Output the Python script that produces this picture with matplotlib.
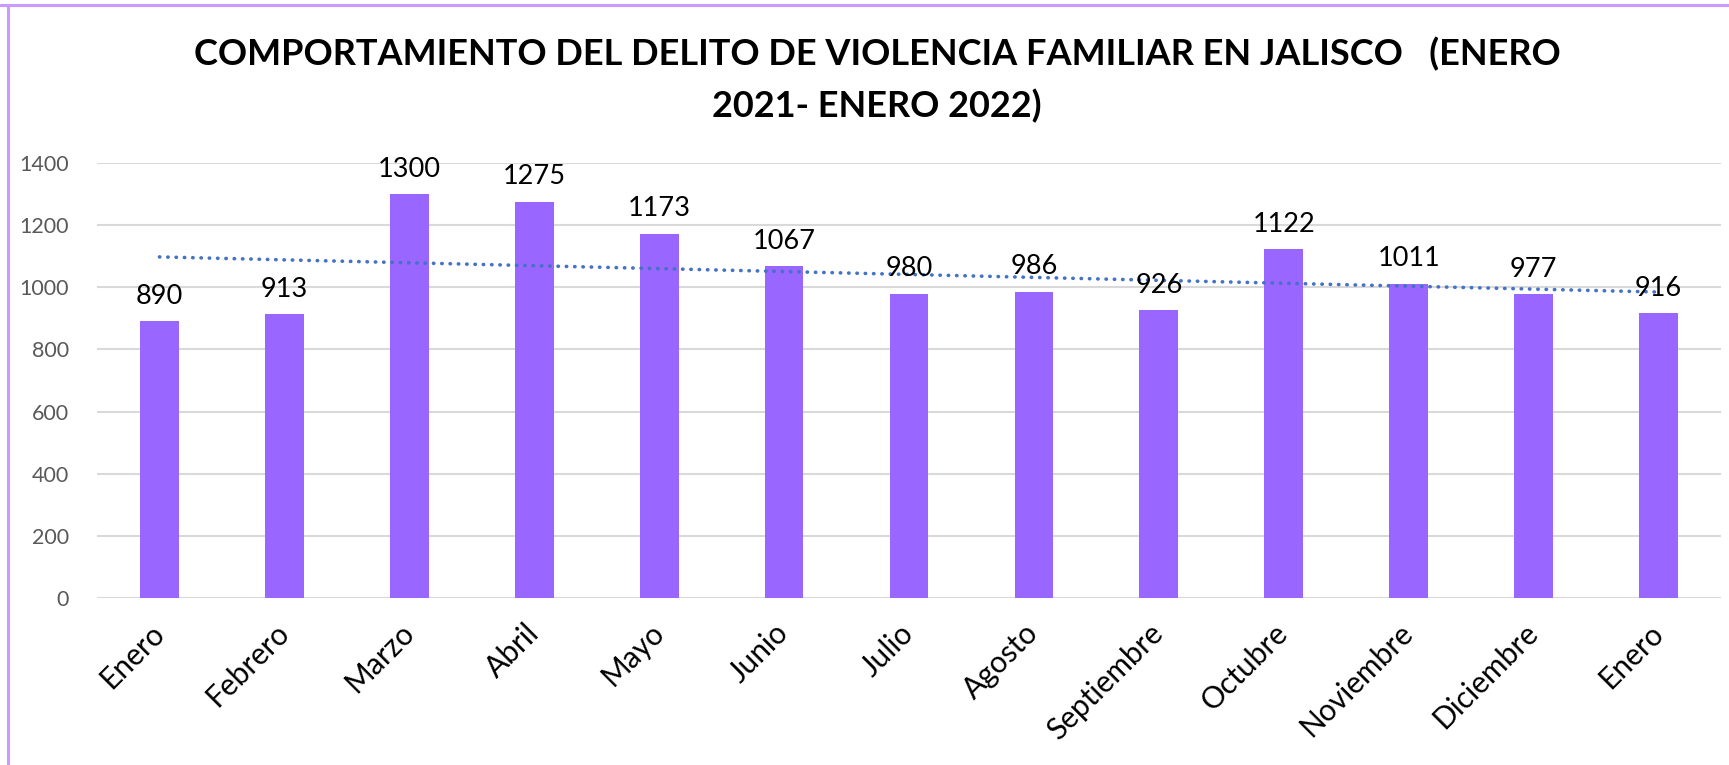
import numpy as np
import matplotlib
matplotlib.use('Agg')
import matplotlib.pyplot as plt
from matplotlib.lines import Line2D

plt.rcParams['font.family'] = ['Lato', 'DejaVu Sans']

meses = ['Enero', 'Febrero', 'Marzo', 'Abril', 'Mayo', 'Junio', 'Julio',
         'Agosto', 'Septiembre', 'Octubre', 'Noviembre', 'Diciembre', 'Enero']
casos = [890, 913, 1300, 1275, 1173, 1067, 980, 986, 926, 1122, 1011, 977, 916]
yticks = [0, 200, 400, 600, 800, 1000, 1200, 1400]

titulo = 'COMPORTAMIENTO DEL DELITO DE VIOLENCIA FAMILIAR EN JALISCO   (ENERO\n2021- ENERO 2022)'

W, H = 1729, 765
fig = plt.figure(figsize=(W/100, H/100), dpi=100, facecolor='white')
ax = fig.add_axes([97/W, 1-598/H, (1721-97)/W, (598-163)/H])

x = np.arange(len(casos))
ax.bar(x, casos, width=0.31, color='#9966FF', zorder=2)

# linea de tendencia (ajuste lineal)
m, b = np.polyfit(x, casos, 1)
ax.plot(x, m*x + b, color='#4472C4', lw=2.6, linestyle=(0, (0.1, 2.2)),
        dash_capstyle='round', zorder=3)

for xi, v in zip(x, casos):
    ax.annotate(str(v), (xi, v), xytext=(0, 9), textcoords='offset points',
                ha='center', va='bottom', fontsize=19.5, color='black', zorder=4)

ax.set_xlim(-0.5, len(casos)-0.5)
ax.set_ylim(0, 1400)
ax.set_yticks(yticks)
ax.yaxis.grid(True, color='#D9D9D9', lw=1.5, zorder=0)
ax.set_axisbelow(True)
for s in ax.spines.values():
    s.set_visible(False)
ax.tick_params(axis='both', length=0)
ax.tick_params(axis='y', labelsize=15.5, labelcolor='#595959', pad=20)
ax.set_xticks(x)
ax.set_xticklabels(meses, rotation=45, ha='right', va='center',
                   rotation_mode='anchor', fontsize=21.5)
ax.tick_params(axis='x', pad=22)

fig.text(877/W, 1-80/H, titulo, ha='center', va='center', fontsize=26,
         fontweight='bold', linespacing=1.6)

# borde del grafico
fig.add_artist(Line2D([0, 1], [1-5/H, 1-5/H], color='#CC99FF', lw=2.2))
fig.add_artist(Line2D([8/W, 8/W], [0, 1-5/H], color='#CC99FF', lw=2.2))

plt.savefig('out.png', dpi=100)
